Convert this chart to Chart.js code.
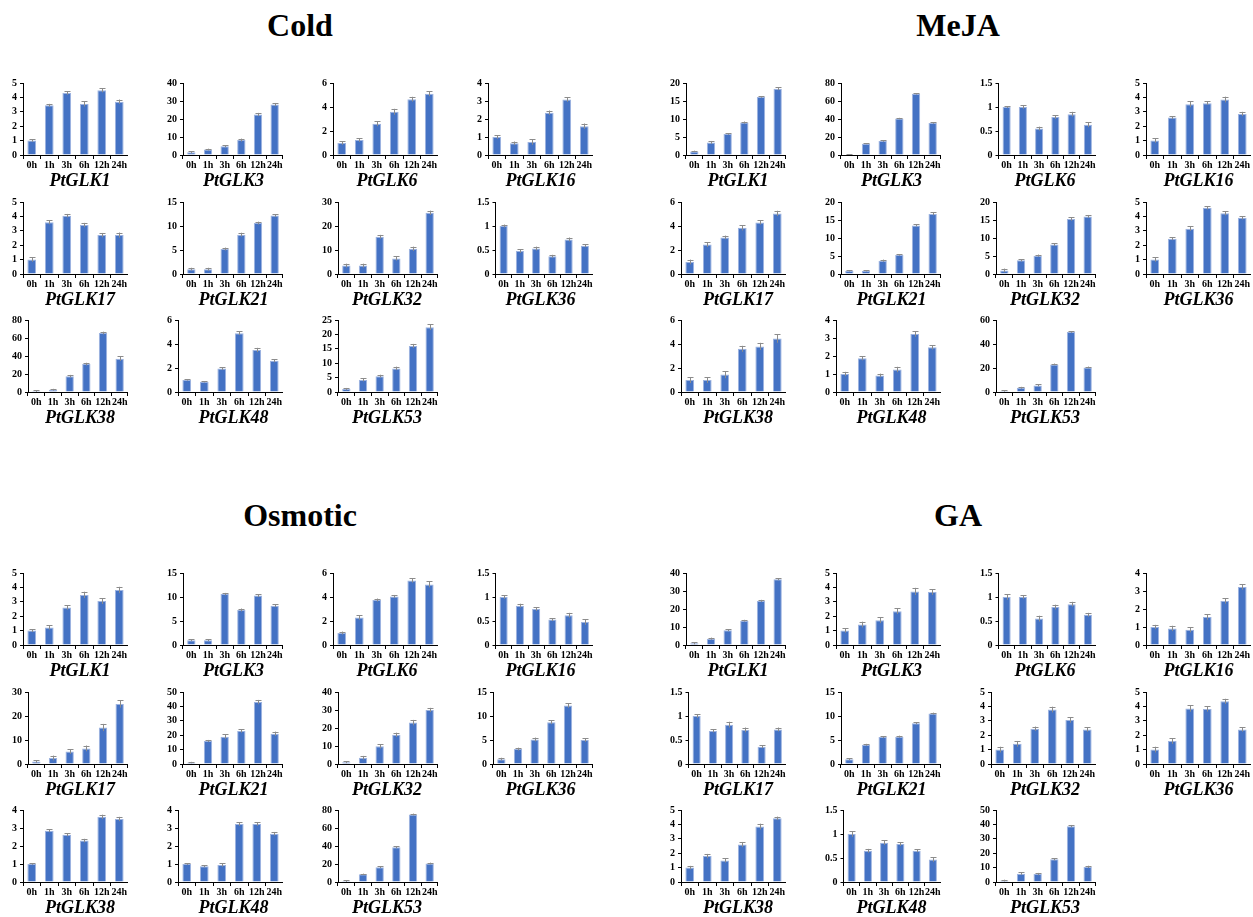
<!DOCTYPE html>
<html>
<head>
<meta charset="utf-8">
<script src="https://cdn.jsdelivr.net/npm/chart.js@4.4.1/dist/chart.umd.min.js"></script>
<style>
  body { margin: 0; width: 1253px; height: 917px; background: #fff; position: relative; overflow: hidden; }
  .panel-title { position: absolute; width: 300px; text-align: center; font-family: 'Liberation Serif', 'Times New Roman', serif; font-weight: bold; font-size: 32px; line-height: 36px; }
  .gene { position: absolute; width: 150px; text-align: center; font-family: 'Liberation Serif', 'Times New Roman', serif; font-weight: bold; font-style: italic; font-size: 18px; line-height: 20px; }
  canvas { position: absolute; }
</style>
</head>
<body>
<script>
var times = ['0h', '1h', '3h', '6h', '12h', '24h'];
var genes = ['PtGLK1', 'PtGLK3', 'PtGLK6', 'PtGLK16', 'PtGLK17', 'PtGLK21', 'PtGLK32', 'PtGLK36', 'PtGLK38', 'PtGLK48', 'PtGLK53'];

// Cold
var coldValues = [
  [1, 3.45, 4.3, 3.55, 4.5, 3.7],
  [1.5, 3, 4.8, 8.3, 22.5, 28],
  [1, 1.25, 2.6, 3.6, 4.65, 5.1],
  [1, 0.65, 0.72, 2.35, 3.08, 1.6],
  [1, 3.6, 4.05, 3.4, 2.7, 2.7],
  [1, 1, 5.2, 8.2, 10.6, 12.2],
  [3.5, 3.5, 15.5, 6.5, 10.5, 25.5],
  [1, 0.48, 0.53, 0.37, 0.72, 0.59],
  [1, 2.5, 17.5, 31, 65.5, 37],
  [1, 0.85, 1.95, 4.9, 3.5, 2.6],
  [1, 4.2, 5.5, 8.2, 16, 22.5],
];
var coldErrors = [
  [0.08, 0.1, 0.12, 0.18, 0.15, 0.15],
  [0.6, 0.5, 0.6, 0.8, 0.9, 0.9],
  [0.15, 0.15, 0.2, 0.25, 0.2, 0.2],
  [0.1, 0.1, 0.15, 0.12, 0.12, 0.15],
  [0.15, 0.15, 0.12, 0.15, 0.15, 0.18],
  [0.3, 0.3, 0.3, 0.4, 0.3, 0.3],
  [0.8, 0.8, 0.8, 0.9, 0.9, 0.9],
  [0.03, 0.04, 0.04, 0.03, 0.04, 0.03],
  [0.8, 1, 1.5, 1.5, 1.5, 2.5],
  [0.05, 0.05, 0.12, 0.15, 0.18, 0.12],
  [0.4, 0.5, 0.5, 0.6, 0.7, 1],
];
var coldMax = [5, 40, 6, 4, 5, 15, 30, 1.5, 80, 6, 25];
var coldStep = [1, 10, 2, 1, 1, 5, 10, 0.5, 20, 2, 5];

// MeJA
var mejaValues = [
  [1, 3.5, 5.8, 9, 16.1, 18.4],
  [0.5, 12.5, 15.5, 40.5, 68, 35.5],
  [1, 1, 0.55, 0.79, 0.85, 0.63],
  [1, 2.6, 3.52, 3.6, 3.85, 2.85],
  [1, 2.45, 3.05, 3.85, 4.3, 5.05],
  [0.9, 0.9, 3.7, 5.3, 13.5, 16.7],
  [1, 3.8, 5.1, 8.2, 15.3, 16],
  [1, 2.45, 3.15, 4.6, 4.22, 3.9],
  [1, 1, 1.45, 3.6, 3.8, 4.45],
  [1, 1.88, 0.92, 1.25, 3.22, 2.48],
  [0.8, 3.5, 5.5, 23, 50, 20.5],
];
var mejaErrors = [
  [0.2, 0.4, 0.2, 0.3, 0.2, 0.4],
  [0.3, 0.5, 0.8, 0.8, 0.8, 0.8],
  [0.02, 0.04, 0.04, 0.04, 0.05, 0.05],
  [0.15, 0.1, 0.2, 0.12, 0.2, 0.15],
  [0.2, 0.2, 0.15, 0.22, 0.18, 0.22],
  [0.2, 0.2, 0.3, 0.2, 0.3, 0.4],
  [0.5, 0.3, 0.3, 0.4, 0.5, 0.4],
  [0.15, 0.1, 0.15, 0.12, 0.15, 0.12],
  [0.25, 0.25, 0.3, 0.25, 0.3, 0.35],
  [0.12, 0.12, 0.1, 0.15, 0.15, 0.12],
  [0.5, 0.8, 0.8, 0.7, 0.7, 0.7],
];
var mejaMax = [20, 80, 1.5, 5, 6, 20, 20, 5, 6, 4, 60];
var mejaStep = [5, 20, 0.5, 1, 2, 5, 5, 1, 2, 1, 20];

// Osmotic
var osmoticValues = [
  [1, 1.22, 2.6, 3.48, 3.05, 3.82],
  [1, 1, 10.6, 7.3, 10.3, 8.2],
  [1, 2.3, 3.75, 4.05, 5.38, 5.05],
  [1, 0.82, 0.75, 0.53, 0.62, 0.48],
  [1, 2.5, 5.2, 6.5, 15.2, 25],
  [1, 16, 19, 23, 43, 21],
  [1, 3.5, 9.8, 16.2, 23, 30],
  [1, 3.1, 5.1, 8.7, 12.2, 5],
  [1, 2.85, 2.62, 2.3, 3.62, 3.5],
  [1, 0.88, 0.95, 3.22, 3.22, 2.68],
  [1, 8.5, 16.5, 38.5, 75, 20.5],
];
var osmoticErrors = [
  [0.1, 0.15, 0.15, 0.22, 0.2, 0.22],
  [0.2, 0.2, 0.25, 0.3, 0.3, 0.3],
  [0.12, 0.2, 0.12, 0.12, 0.18, 0.25],
  [0.04, 0.04, 0.04, 0.03, 0.05, 0.06],
  [0.5, 1, 1, 1.2, 1.5, 1.5],
  [0.5, 0.7, 1.5, 1.2, 1.5, 1.5],
  [0.5, 1, 1.2, 1.2, 1.5, 1.2],
  [0.3, 0.3, 0.4, 0.4, 0.5, 0.4],
  [0.04, 0.08, 0.08, 0.1, 0.12, 0.12],
  [0.05, 0.06, 0.1, 0.1, 0.1, 0.1],
  [0.8, 0.8, 1, 1, 1, 1],
];
var osmoticMax = [5, 15, 6, 1.5, 30, 50, 40, 15, 4, 4, 80];
var osmoticStep = [1, 5, 2, 0.5, 10, 10, 10, 5, 1, 1, 20];

// GA
var gaValues = [
  [1, 3.5, 8.2, 13.5, 24.5, 36.5],
  [1, 1.42, 1.72, 2.35, 3.72, 3.68],
  [1, 1, 0.55, 0.79, 0.85, 0.63],
  [1, 0.92, 0.85, 1.55, 2.45, 3.22],
  [1, 0.69, 0.82, 0.71, 0.36, 0.72],
  [1, 4, 5.6, 5.7, 8.5, 10.5],
  [1, 1.4, 2.45, 3.78, 3.05, 2.4],
  [1, 1.6, 3.85, 3.82, 4.35, 2.4],
  [1, 1.8, 1.5, 2.6, 3.85, 4.42],
  [1, 0.65, 0.82, 0.79, 0.65, 0.47],
  [1, 5.8, 5.5, 15.8, 38.8, 10.5],
];
var gaErrors = [
  [0.6, 0.6, 0.5, 0.5, 0.6, 0.5],
  [0.15, 0.2, 0.2, 0.2, 0.25, 0.2],
  [0.06, 0.04, 0.06, 0.05, 0.05, 0.04],
  [0.12, 0.15, 0.15, 0.15, 0.15, 0.15],
  [0.04, 0.03, 0.06, 0.05, 0.03, 0.04],
  [0.2, 0.2, 0.2, 0.2, 0.2, 0.2],
  [0.2, 0.2, 0.15, 0.2, 0.18, 0.15],
  [0.2, 0.2, 0.22, 0.18, 0.18, 0.15],
  [0.12, 0.15, 0.15, 0.18, 0.2, 0.12],
  [0.06, 0.04, 0.05, 0.04, 0.03, 0.05],
  [0.6, 0.8, 0.8, 0.8, 0.8, 0.8],
];
var gaMax = [40, 5, 1.5, 4, 1.5, 15, 5, 5, 5, 1.5, 50];
var gaStep = [10, 1, 0.5, 1, 0.5, 5, 1, 1, 1, 0.5, 10];

var serif = "'Liberation Serif', 'Times New Roman', serif";

// draws the error bars from each dataset's errors through the y scale
var errorBarPlugin = {
  id: 'errorBars',
  afterDatasetsDraw(chart) {
    var ctx = chart.ctx;
    var yScale = chart.scales.y;
    var dataset = chart.data.datasets[0];
    var meta = chart.getDatasetMeta(0);
    ctx.save();
    ctx.strokeStyle = '#8c8c8c';
    ctx.lineWidth = 1;
    meta.data.forEach(function (bar, i) {
      var v = dataset.data[i];
      var e = dataset.errors[i];
      var top = yScale.getPixelForValue(v + e);
      var bottom = yScale.getPixelForValue(Math.max(v - e, 0));
      var x = Math.round(bar.x) + 0.5;
      ctx.beginPath();
      ctx.moveTo(x, top);
      ctx.lineTo(x, bottom);
      ctx.moveTo(x - 3, Math.round(top) + 0.5);
      ctx.lineTo(x + 3, Math.round(top) + 0.5);
      ctx.stroke();
    });
    ctx.restore();
  },
};

function createSmallChart(left, top, values, errors, yMax, yStep) {
  var canvas = document.createElement('canvas');
  canvas.width = 124;
  canvas.height = 122;
  canvas.style.left = left + 'px';
  canvas.style.top = top + 'px';
  document.body.appendChild(canvas);
  new Chart(canvas, {
    type: 'bar',
    data: {
      labels: times,
      datasets: [
        {
          data: values,
          errors: errors,
          backgroundColor: '#4472c4',
          borderColor: '#9db3e0',
          borderWidth: 1,
          barPercentage: 0.5,
          categoryPercentage: 1,
        },
      ],
    },
    options: {
      responsive: false,
      animation: false,
      layout: { padding: { left: 5, right: 0, top: 0, bottom: 25 } },
      plugins: {
        legend: { display: false },
        tooltip: { enabled: false },
        title: { display: false },
      },
      scales: {
        x: {
          border: { display: true, color: '#000', width: 1 },
          grid: { drawOnChartArea: false, color: '#000', tickLength: 4, offset: true },
          ticks: {
            color: '#000',
            padding: 0,
            autoSkip: false,
            maxRotation: 0,
            minRotation: 0,
            font: { family: serif, size: 10, weight: 'bold' },
          },
        },
        y: {
          min: 0,
          max: yMax,
          border: { display: true, color: '#000', width: 1 },
          grid: { drawOnChartArea: false, color: '#000', tickLength: 3 },
          ticks: {
            stepSize: yStep,
            autoSkip: false,
            color: '#000',
            padding: 3,
            font: { family: serif, size: 10, weight: 'bold' },
            callback: function (v) { return v; },
          },
        },
      },
    },
    plugins: [errorBarPlugin],
  });
}

function createPanel(title, dx, dy, values, errors, maxes, steps) {
  var heading = document.createElement('div');
  heading.className = 'panel-title';
  heading.textContent = title;
  heading.style.left = (150 + dx) + 'px';
  heading.style.top = (7 + dy) + 'px';
  document.body.appendChild(heading);

  genes.forEach(function (gene, i) {
    var col = i % 4;
    var row = Math.floor(i / 4);
    var top = 74 + 118.5 * row + dy;
    createSmallChart(4 + 155 * col + dx, top, values[i], errors[i], maxes[i], steps[i]);

    var label = document.createElement('div');
    label.className = 'gene';
    label.textContent = gene;
    label.style.left = (5 + 153.5 * col + dx) + 'px';
    label.style.top = (top + 96) + 'px';
    document.body.appendChild(label);
  });
}

createPanel('Cold', 0, 0, coldValues, coldErrors, coldMax, coldStep);
createPanel('MeJA', 658, 0, mejaValues, mejaErrors, mejaMax, mejaStep);
createPanel('Osmotic', 0, 490, osmoticValues, osmoticErrors, osmoticMax, osmoticStep);
createPanel('GA', 658, 490, gaValues, gaErrors, gaMax, gaStep);
</script>
</body>
</html>
